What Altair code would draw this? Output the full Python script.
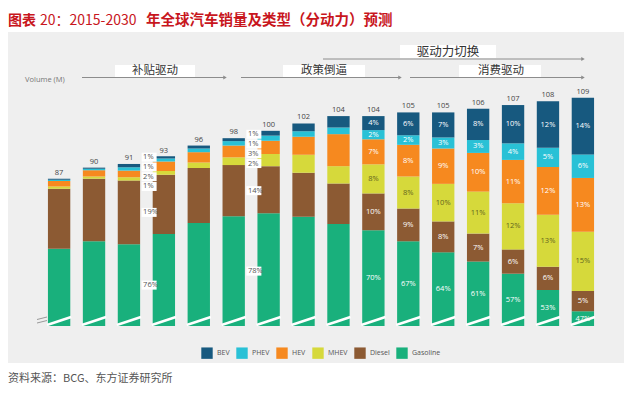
import altair as alt
import pandas as pd

# ---------------- data (millions of vehicles) ----------------
years = ["2015", "2016", "2017", "2018", "2019", "2020", "2021", "2022",
         "2023", "2024", "2025", "2026", "2027", "2028", "2029", "2030"]
totals = [87, 90, 91, 93, 96, 98, 100, 102, 104, 104, 105, 105, 106, 107, 108, 109]

gasoline = [68.0, 70.0, 69.2, 72.0, 75.0, 76.8, 77.6, 76.7, 74.7, 73.0, 70.0, 67.0, 64.5, 61.2, 56.8, 51.0]
diesel   = [16.3, 17.0, 17.3, 16.1, 14.9, 13.9, 12.8, 11.9, 11.0, 10.0, 8.9, 8.4, 7.6, 6.6, 6.3, 5.5]
mhev     = [0.6, 0.6, 0.9, 1.0, 1.5, 2.1, 3.3, 4.9, 4.7, 7.9, 8.7, 10.2, 11.4, 12.5, 14.1, 16.1]
hev      = [1.5, 1.7, 1.8, 2.6, 2.8, 3.2, 3.6, 4.9, 8.7, 6.8, 8.6, 9.6, 10.5, 11.8, 13.0, 14.6]
phev     = [0.3, 0.4, 0.9, 0.8, 1.0, 1.2, 1.4, 1.5, 1.8, 2.5, 2.6, 3.0, 3.5, 4.5, 5.2, 6.4]
bev      = [0.3, 0.3, 0.9, 0.6, 0.8, 0.8, 1.3, 2.1, 3.1, 3.8, 6.2, 6.8, 8.5, 10.4, 12.6, 15.4]

gasoline_lbl = ["", "", "76%", "", "", "78%", "", "", "", "70%", "67%", "64%", "61%", "57%", "53%", "47%"]
diesel_lbl   = ["", "", "19%", "", "", "14%", "", "", "", "10%", "9%", "8%", "7%", "6%", "6%", "5%"]
mhev_lbl     = ["", "", "1%", "", "", "2%", "", "", "", "8%", "8%", "10%", "11%", "12%", "13%", "15%"]
hev_lbl      = ["", "", "2%", "", "", "3%", "", "", "", "7%", "8%", "9%", "10%", "11%", "12%", "13%"]
phev_lbl     = ["", "", "1%", "", "", "1%", "", "", "", "2%", "2%", "3%", "3%", "4%", "5%", "6%"]
bev_lbl      = ["", "", "1%", "", "", "1%", "", "", "", "4%", "6%", "7%", "8%", "10%", "12%", "14%"]

legend_order = ["BEV", "PHEV", "HEV", "MHEV", "Diesel", "Gasoline"]
colors = ["#17597f", "#29c1d6", "#f6891f", "#d6d93b", "#8c5a33", "#19b07c"]
side_years = ["2017", "2020"]   # labels drawn beside the bar

title_a = "图表"
title_b = "20：2015-2030"
title_c = "年全球汽车销量及类型（分动力）预测"
source_txt = "资料来源：BCG、东方证券研究所"
volume_txt = "Volume (M)"
phase_labels = ["补贴驱动", "政策倒逼", "消费驱动", "驱动力切换"]

# ---------------- table building ----------------
AXIS_FLOOR = 47  # value drawn at the broken-axis "0"
stack = [("Gasoline", gasoline, gasoline_lbl), ("Diesel", diesel, diesel_lbl),
         ("MHEV", mhev, mhev_lbl), ("HEV", hev, hev_lbl),
         ("PHEV", phev, phev_lbl), ("BEV", bev, bev_lbl)]
rows = []
for i, yr in enumerate(years):
    cum = 0.0
    for k, (name, vals, lbls) in enumerate(stack):
        s, e = cum, cum + vals[i]
        cum = e
        rows.append(dict(year=yr, type=name, order=k, start=s, end=e,
                         mid=(max(s, AXIS_FLOOR) + e) / 2, label=lbls[i],
                         lcolor="#62641f" if name == "MHEV" else "white"))
df = pd.DataFrame(rows)

# side label positions: small segments spread out
df["pos"] = df["mid"]
for yr in side_years:
    small = ["MHEV", "HEV", "PHEV", "BEV"]
    m = df[(df.year == yr) & (df.type.isin(small))]["mid"].mean()
    for j, t in enumerate(small):
        df.loc[(df.year == yr) & (df.type == t), "pos"] = m + (j - 1.5) * 2.65

inside = df[(~df.year.isin(side_years)) & (df.label != "")]
side = df[df.year.isin(side_years)]
tot = pd.DataFrame({"year": years, "total": totals})
dummy = pd.DataFrame({"d": [0]})

W, H = 558, 232
FONT = "Open Sans"
CJK = "Noto Sans CJK SC"

xscale = alt.Scale(paddingInner=0.36, paddingOuter=0.17)
yscale = alt.Scale(domain=[AXIS_FLOOR, 110], nice=False, zero=False)


def vtext(txt, x, y, size, color, align="left", weight="normal", font=CJK):
    return alt.Chart(dummy).mark_text(text=txt, align=align, baseline="middle",
                                      fontSize=size, color=color, fontWeight=weight,
                                      font=font).encode(x=alt.value(x), y=alt.value(y))


def vrect(x1, x2, y1, y2, color):
    return alt.Chart(dummy).mark_rect(color=color).encode(
        x=alt.value(x1), x2=alt.value(x2), y=alt.value(y1), y2=alt.value(y2))


def arrow(x1, x2, y):
    line = alt.Chart(dummy).mark_rule(color="#8c8c8c", strokeWidth=1).encode(
        x=alt.value(x1), x2=alt.value(x2), y=alt.value(y))
    head = alt.Chart(dummy).mark_point(shape="triangle-right", filled=True, size=16,
                                       color="#8c8c8c", opacity=1).encode(
        x=alt.value(x2), y=alt.value(y))
    return [line, head]


layers = [vrect(-34, 583, -62, 269, "#efefef")]
# phase arrows
for a in [(40, 183, -16.5), (199, 358, -16.5), (368, 541, -16.5), (281, 541, -35)]:
    layers += arrow(*a)
layers += [vrect(73, 153, -29, -17, "white"), vrect(241, 323, -29, -17, "white"),
           vrect(417, 499, -29, -17, "white"), vrect(358, 454, -49, -36, "white")]
layers += [vtext(phase_labels[0], 113, -23, 11.5, "#333", "center"),
           vtext(phase_labels[1], 282, -23, 11.5, "#333", "center"),
           vtext(phase_labels[2], 459, -23, 11.5, "#333", "center"),
           vtext(phase_labels[3], 406, -42, 12.5, "#333", "center")]
# titles and notes
layers += [vtext(title_a, -34, -73, 14, "#c8161d", weight="bold"),
           vtext(title_b, -2, -73, 14, "#c8161d"),
           vtext(title_c, 104, -73, 14.5, "#c8161d", weight="bold"),
           vtext(volume_txt, -17, -14, 7.5, "#777", font=FONT),
           vtext(source_txt, -34, 285, 11, "#555")]

bars = alt.Chart(df).mark_bar(clip=True).encode(
    x=alt.X("year:O", scale=xscale, sort=years,
            axis=alt.Axis(title=None, labelAngle=0, ticks=False, labelFontSize=7.2,
                          labelColor="#666", labelFont=FONT, labelPadding=6,
                          domainColor="#bdbdbd")),
    y=alt.Y("start:Q", scale=yscale,
            axis=alt.Axis(title=None, values=[47, 60, 70, 80, 90, 100, 110],
                          labelExpr="datum.value == 47 ? '0' : datum.value",
                          ticks=False, grid=False, labelFontSize=7.5, labelColor="#666",
                          labelFont=FONT, labelPadding=4, domainColor="#bdbdbd")),
    y2="end:Q",
    color=alt.Color("type:N", scale=alt.Scale(domain=legend_order, range=colors),
                    legend=alt.Legend(orient="none", legendX=159, legendY=253,
                                      direction="horizontal", title=None,
                                      symbolType="square", symbolSize=130,
                                      symbolStrokeWidth=0, labelFontSize=7,
                                      labelFont=FONT, labelColor="#555",
                                      columnPadding=6, labelOffset=4, padding=0)),
)

stripes = alt.Chart(tot).mark_point(shape="M-1,0.33L1,-0.33", filled=False, stroke="white",
                                    strokeWidth=2.6, size=580, opacity=1).encode(
    x=alt.X("year:O", sort=years), y=alt.value(227))

ybreak = alt.Chart(dummy).mark_point(shape="M-1,-0.1L1,-0.6M-1,0.6L1,0.1", filled=False,
                                     stroke="#999", strokeWidth=1, size=100, opacity=1).encode(
    x=alt.value(0), y=alt.value(226))

tot_text = alt.Chart(tot).mark_text(dy=-6, fontSize=7.5, color="#444", font=FONT).encode(
    x=alt.X("year:O", sort=years), y="total:Q", text="total:Q")

in_text = alt.Chart(inside).mark_text(fontSize=7.5, font=FONT, baseline="middle").encode(
    x=alt.X("year:O", sort=years), y="mid:Q", text="label:N",
    color=alt.Color("lcolor:N", scale=None))

side_box = alt.Chart(side).mark_point(shape="M-1,-0.6H1V0.6H-1Z", filled=True, color="white",
                                      size=225, opacity=1, xOffset=9).encode(
    x=alt.X("year:O", sort=years, bandPosition=1), y="pos:Q")

side_text = alt.Chart(side).mark_text(fontSize=7.5, font=FONT, align="left", dx=3,
                                      baseline="middle", color="#555").encode(
    x=alt.X("year:O", sort=years, bandPosition=1), y="pos:Q", text="label:N")

layers += [bars, stripes, ybreak, tot_text, in_text, side_box, side_text]

chart = alt.layer(*layers).properties(
    width=W, height=H,
    padding={"left": 34, "top": 86, "right": 24, "bottom": 60},
    autosize=alt.AutoSizeParams(type="none"),
).configure_view(stroke=None).configure(background="white")

chart.save("out.html", embed_options={"renderer": "svg", "actions": False})
